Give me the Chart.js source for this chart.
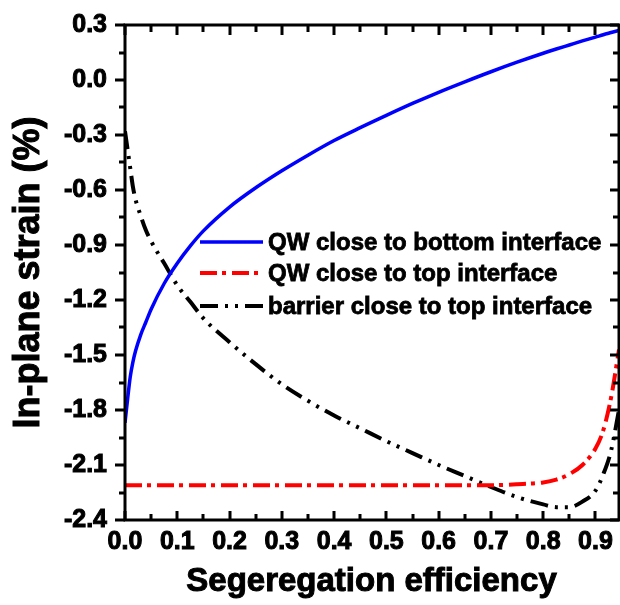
<!DOCTYPE html>
<html><head><meta charset="utf-8">
<script src="https://cdn.jsdelivr.net/npm/chart.js@4.4.1/dist/chart.umd.min.js"></script>
<style>html,body{margin:0;padding:0;background:#fff;}#wrap{width:620px;height:605px;}</style>
</head><body><div id="wrap"><canvas id="c" width="620" height="605"></canvas></div>
<script>
// ---- data ----
const efficiency = [0, 0.005, 0.01, 0.015, 0.02, 0.03, 0.04, 0.05, 0.075, 0.1, 0.125, 0.15, 0.2, 0.25, 0.3, 0.35, 0.4, 0.45, 0.5, 0.55, 0.6, 0.65, 0.7, 0.75, 0.8, 0.825, 0.85, 0.875, 0.9, 0.915, 0.93, 0.945];
const qwBottom   = [-1.87, -1.74, -1.62, -1.54, -1.48, -1.39, -1.32, -1.25, -1.11, -1.00, -0.905, -0.823, -0.693, -0.588, -0.495, -0.41, -0.33, -0.26, -0.193, -0.128, -0.067, -0.01, 0.045, 0.097, 0.146, 0.169, 0.191, 0.213, 0.234, 0.247, 0.259, 0.271];
const qwTop      = [-2.21, -2.21, -2.21, -2.21, -2.21, -2.21, -2.21, -2.21, -2.21, -2.21, -2.21, -2.21, -2.21, -2.21, -2.21, -2.21, -2.21, -2.21, -2.21, -2.21, -2.21, -2.21, -2.21, -2.205, -2.195, -2.18, -2.15, -2.10, -2.01, -1.91, -1.73, -1.47];
const barrierTop = [-0.28, -0.38, -0.48, -0.58, -0.65, -0.74, -0.82, -0.88, -1.00, -1.12, -1.21, -1.30, -1.43, -1.55, -1.66, -1.75, -1.83, -1.90, -1.97, -2.035, -2.10, -2.16, -2.22, -2.275, -2.315, -2.33, -2.33, -2.30, -2.24, -2.15, -2.02, -1.80];
const seriesNames = ['QW close to bottom interface', 'QW close to top interface', 'barrier close to top interface'];
const xTitle = 'Segeregation efficiency';
const yTitle = 'In-plane strain (%)';
const xRange = [0, 0.945];
const yRange = [-2.4, 0.3];

const FONT = '"Liberation Sans", Arial, Helvetica, sans-serif';
const pts = ys => efficiency.map((x, i) => ({x: x, y: ys[i]}));

const framePlugin = {
  id: 'frameTicks',
  afterDraw(chart) {
    const ctx = chart.ctx, a = chart.chartArea;
    const xs = chart.scales.x, ys = chart.scales.y;
    ctx.save();
    ctx.strokeStyle = '#000';
    ctx.lineWidth = 3;
    ctx.lineCap = 'butt';
    ctx.beginPath();
    for (let k = 0; k * 0.05 <= xRange[1] + 1e-9; k++) {
      const px = Math.round(xs.getPixelForValue(k * 0.05));
      const major = k % 2 === 0;
      const bl = major ? 9 : 6, tl = major ? 10 : 7;
      ctx.moveTo(px, a.bottom); ctx.lineTo(px, a.bottom - bl);
      ctx.moveTo(px, a.top); ctx.lineTo(px, a.top + tl);
    }
    for (let k = 0; k <= 18; k++) {
      const v = yRange[0] + k * 0.15;
      const py = Math.round(ys.getPixelForValue(v));
      const major = k % 2 === 0;
      const l = major ? 10 : 6;
      ctx.moveTo(a.left, py); ctx.lineTo(a.left - l, py);
      ctx.moveTo(a.right, py); ctx.lineTo(a.right - (major ? 9 : 6), py);
    }
    ctx.stroke();
    ctx.strokeRect(a.left, a.top, a.right - a.left, a.bottom - a.top);

    ctx.fillStyle = '#000';
    ctx.strokeStyle = '#000';
    ctx.lineWidth = 1;
    ctx.textAlign = 'center';
    ctx.textBaseline = 'middle';
    ctx.font = 'bold 33px ' + FONT;
    const cx = (a.left + a.right) / 2 - 0.5;
    ctx.fillText(xTitle, cx, 582);
    ctx.strokeText(xTitle, cx, 582);
    ctx.translate(29, (a.top + a.bottom) / 2);
    ctx.rotate(-Math.PI / 2);
    ctx.font = 'bold 36px ' + FONT;
    ctx.fillText(yTitle, 0, 0);
    ctx.strokeText(yTitle, 0, 0);
    ctx.restore();
  }
};

const legendPlugin = {
  id: 'innerLegend',
  afterDatasetsDraw(chart) {
    const ctx = chart.ctx;
    const rows = [242, 273, 306];
    ctx.save();
    chart.data.datasets.forEach((ds, i) => {
      const y = rows[i];
      ctx.strokeStyle = ds.borderColor;
      ctx.lineWidth = ds.borderWidth;
      ctx.setLineDash(ds.borderDash || []);
      ctx.beginPath();
      ctx.moveTo(200, y); ctx.lineTo(263, y);
      ctx.stroke();
      ctx.setLineDash([]);
      ctx.fillStyle = '#000';
      ctx.strokeStyle = '#000';
      ctx.lineWidth = 0.8;
      ctx.font = 'bold 24px ' + FONT;
      ctx.textBaseline = 'middle';
      ctx.textAlign = 'left';
      ctx.fillText(ds.label, 268, y + 1);
      ctx.strokeText(ds.label, 268, y + 1);
    });
    ctx.restore();
  }
};

new Chart(document.getElementById('c'), {
  type: 'line',
  data: {
    datasets: [
      {label: seriesNames[0], data: pts(qwBottom), borderColor: '#0000ff', borderWidth: 3.5, pointRadius: 0, cubicInterpolationMode: 'monotone', fill: false},
      {label: seriesNames[1], data: pts(qwTop), borderColor: '#ff0000', borderWidth: 4, borderDash: [17, 5, 4, 6], pointRadius: 0, cubicInterpolationMode: 'monotone', fill: false},
      {label: seriesNames[2], data: pts(barrierTop), borderColor: '#000000', borderWidth: 4, borderDash: [18, 7, 3, 7, 3, 7], pointRadius: 0, cubicInterpolationMode: 'monotone', fill: false}
    ]
  },
  options: {
    responsive: false,
    animation: false,
    devicePixelRatio: 1,
    layout: {padding: {top: 22, right: 1, left: 0, bottom: 0}},
    plugins: {legend: {display: false}, tooltip: {enabled: false}},
    scales: {
      x: {
        type: 'linear', min: xRange[0], max: xRange[1],
        grid: {display: false}, border: {display: false},
        ticks: {stepSize: 0.1, includeBounds: false, autoSkip: false, maxRotation: 0, padding: -1,
          color: '#000', textStrokeColor: '#000', textStrokeWidth: 1,
          font: {family: FONT, size: 25, weight: 'bold'},
          callback: v => (Math.abs(v) < 1e-9 ? 0 : v).toFixed(1)},
        title: {display: false},
        afterFit: s => { s.height = 85; }
      },
      y: {
        type: 'linear', min: yRange[0], max: yRange[1],
        grid: {display: false}, border: {display: false},
        ticks: {stepSize: 0.3, autoSkip: false, padding: 10,
          color: '#000', textStrokeColor: '#000', textStrokeWidth: 1,
          font: {family: FONT, size: 25, weight: 'bold'},
          callback: v => (Math.abs(v) < 1e-9 ? 0 : v).toFixed(1)},
        title: {display: false},
        afterFit: s => { s.width = 125; }
      }
    }
  },
  plugins: [legendPlugin, framePlugin]
});
</script>
</body></html>
